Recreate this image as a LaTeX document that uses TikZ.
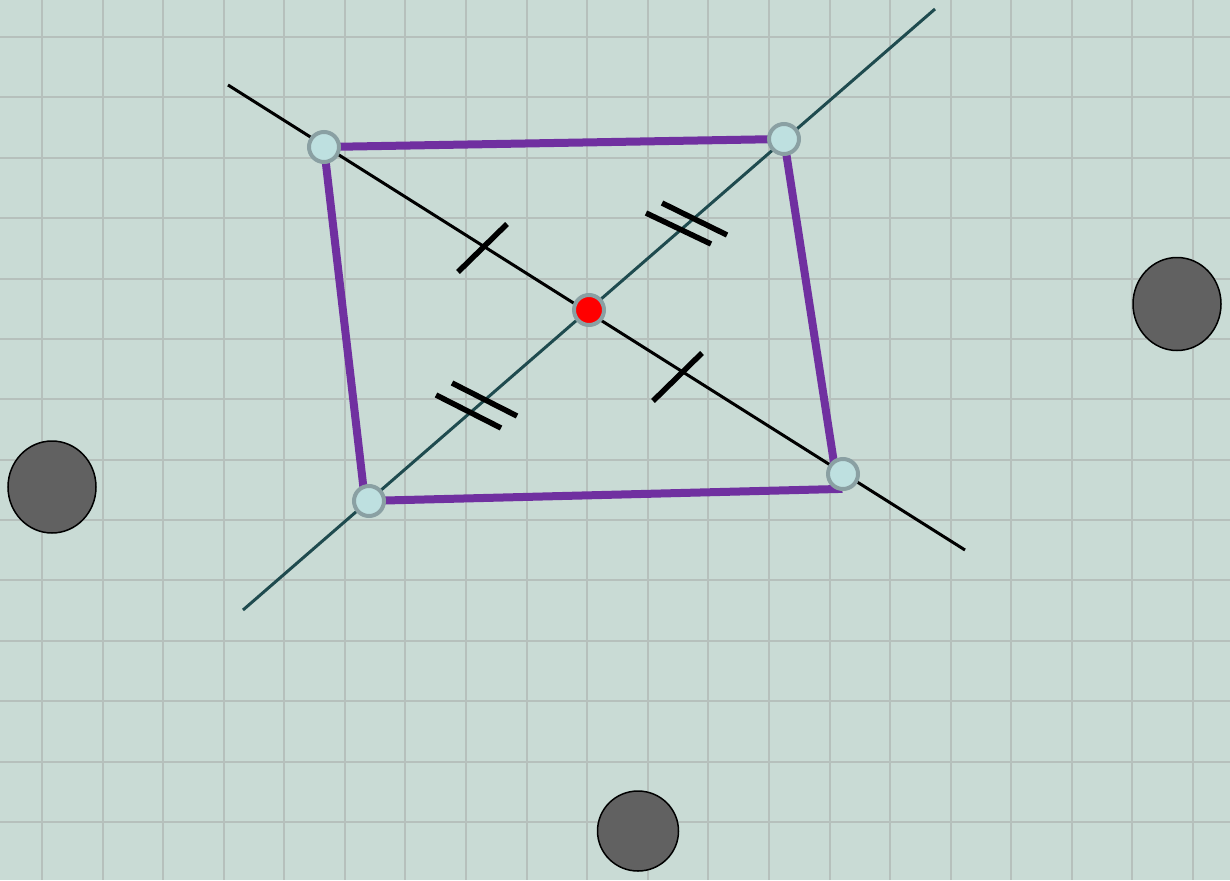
\documentclass[tikz,border=0pt]{standalone}
\definecolor{bgc}{HTML}{C9DBD5}
\definecolor{gridc}{HTML}{B6C0BC}
\definecolor{tealc}{HTML}{1F4B4F}
\definecolor{purp}{HTML}{7030A0}
\definecolor{vfill}{HTML}{BEE0E0}
\definecolor{vring}{HTML}{8AA0A3}
\definecolor{blob}{HTML}{616161}
\tikzset{
  gridline/.style={gridc, line width=2pt},
  diagA/.style={black, line width=3pt},
  diagB/.style={tealc, line width=3pt},
  edge/.style={purp, line width=8pt},
  tick/.style={black, line width=5.5pt},
  vtx/.style={circle, draw=vring, line width=4pt, fill=vfill, minimum size=30pt, inner sep=0pt},
  ctr/.style={circle, draw=vring, line width=4pt, fill=red, minimum size=30pt, inner sep=0pt},
  blobstyle/.style={ellipse, draw=black, line width=1.5pt, fill=blob, inner sep=0pt}
}
\usetikzlibrary{shapes.geometric}
\begin{document}
\begin{tikzpicture}[x=1pt,y=-1pt]
\useasboundingbox (0,0) rectangle (1230,880);
\fill[bgc] (0,0) rectangle (1230,880);
% grid
\foreach \k in {0,...,19} {\draw[gridline] ({42+60.58*\k},0) -- ({42+60.58*\k},880);}
\foreach \k in {0,...,13} {\draw[gridline] (0,{37+60.38*\k}) -- (1230,{37+60.38*\k});}
% positions
\coordinate (pA) at (324,147);
\coordinate (pB) at (784,139);
\coordinate (pC) at (843,474);
\coordinate (qC) at (838,489);
\coordinate (pD) at (369,501);
\coordinate (qD) at (365,501);
\coordinate (pO) at (589,310);
\coordinate (a1) at (228,85);
\coordinate (a2) at (965,550);
\coordinate (b1) at (243,610);
\coordinate (b2) at (935,9);
% diagonals
\draw[diagA] (a1) -- (a2);
\draw[diagB] (b1) -- (b2);
% edges
\draw[edge] (pA) -- (pB) -- (qC) -- (qD) -- cycle;
% ticks
\coordinate (t1a) at (458,272); \coordinate (t1b) at (507,224);
\coordinate (t2a) at (653,401); \coordinate (t2b) at (702,353);
\draw[tick] (t1a) -- (t1b);
\draw[tick] (t2a) -- (t2b);
\coordinate (u1a) at (436,395); \coordinate (u1b) at (501,428);
\coordinate (u2a) at (452,383); \coordinate (u2b) at (517,416);
\coordinate (w1a) at (646,213); \coordinate (w1b) at (711,244);
\coordinate (w2a) at (662,203); \coordinate (w2b) at (727,235);
\draw[tick] (u1a) -- (u1b);
\draw[tick] (u2a) -- (u2b);
\draw[tick] (w1a) -- (w1b);
\draw[tick] (w2a) -- (w2b);
% vertices
\node[vtx] (A) at (pA) {};
\node[vtx] (B) at (pB) {};
\node[vtx] (C) at (pC) {};
\node[vtx] (D) at (pD) {};
\node[ctr] (O) at (pO) {};
% blobs
\node[blobstyle, minimum width=88pt, minimum height=92pt] (g1) at (52,487) {};
\node[blobstyle, minimum width=88pt, minimum height=93pt] (g2) at (1177,304) {};
\node[blobstyle, minimum width=81pt, minimum height=80pt] (g3) at (638,831) {};
\end{tikzpicture}
\end{document}
